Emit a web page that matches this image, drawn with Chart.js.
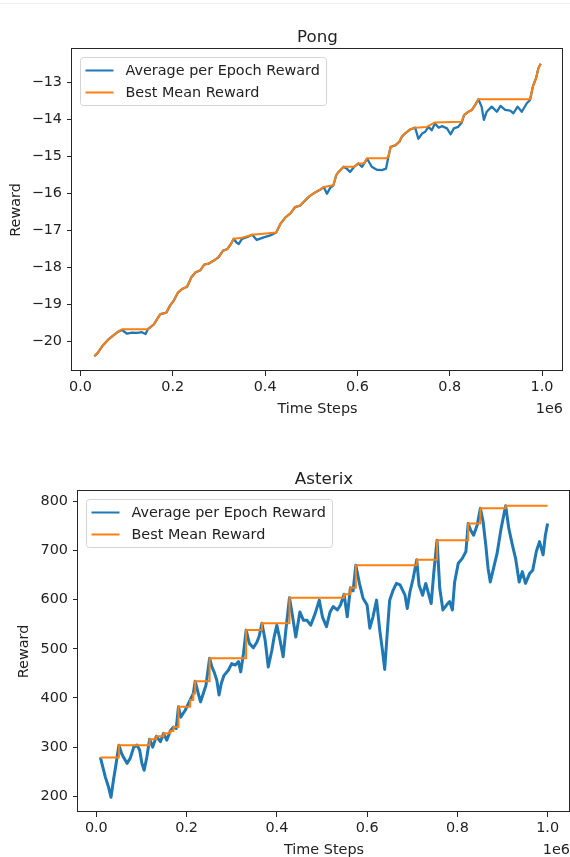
<!DOCTYPE html>
<html>
<head>
<meta charset="utf-8">
<script src="https://cdn.jsdelivr.net/npm/chart.js@4.4.0/dist/chart.umd.min.js"></script>
<style>
  html, body { margin: 0; padding: 0; background: #fff; }
  body { position: relative; width: 570px; height: 857px; overflow: hidden; }
  #rule { position: absolute; left: 0; top: 3px; width: 570px; height: 1px; background: #efefef; }
  canvas { position: absolute; left: 0; }
  #pong { top: 0; }
  #asterix { top: 430px; }
</style>
</head>
<body>
<div id="rule"></div>
<canvas id="pong" width="570" height="430"></canvas>
<canvas id="asterix" width="570" height="427"></canvas>
<script>
// --- Pong ---
const pongSteps = [30000, 37500, 47000, 61000, 72000, 81000, 90000, 101000, 112000, 123000, 133000, 141000, 146000,
  159000, 173000, 186000, 195000, 202000, 211000, 220000, 231000, 240000, 249000, 260000, 268000, 278000, 289000,
  299000, 309000, 318000, 326000, 332000, 338000, 343000, 350000, 362000, 372000, 382000, 397000, 411000, 424000,
  433000, 444000, 455000, 465000, 476000, 487000, 494000, 498000, 509000, 519000, 527000, 534000, 541000, 548000,
  554000, 559000, 570000, 577000, 584000, 593000, 602000, 610000, 621000, 631000, 642000, 653000, 662000, 667000,
  672000, 682000, 691000, 696000, 703000, 714000, 725000, 732000, 740000, 747000, 754000, 761000, 768000, 776000,
  783000, 794000, 802000, 809000, 818000, 826000, 831000, 840000, 848000, 855000, 862000, 869000, 874000, 880000,
  891000, 902000, 910000, 920000, 931000, 938000, 947000, 956000, 967000, 974000, 980000, 987000, 992000, 997000];
const pongAvg = [-20.41, -20.32, -20.14, -19.95, -19.84, -19.75, -19.70, -19.80, -19.77, -19.78, -19.76, -19.81, -19.68,
  -19.55, -19.27, -19.23, -19.02, -18.91, -18.69, -18.59, -18.53, -18.28, -18.14, -18.08, -17.93, -17.90, -17.82,
  -17.73, -17.55, -17.51, -17.37, -17.23, -17.33, -17.37, -17.23, -17.18, -17.12, -17.26, -17.19, -17.14, -17.06,
  -16.83, -16.65, -16.54, -16.37, -16.33, -16.19, -16.10, -16.06, -15.97, -15.90, -15.83, -16.01, -15.85, -15.78,
  -15.51, -15.42, -15.28, -15.33, -15.42, -15.28, -15.19, -15.28, -15.06, -15.28, -15.36, -15.37, -15.33, -15.01,
  -14.74, -14.70, -14.60, -14.47, -14.38, -14.27, -14.22, -14.52, -14.38, -14.33, -14.20, -14.29, -14.11, -14.22,
  -14.18, -14.24, -14.40, -14.24, -14.20, -14.08, -13.88, -13.79, -13.74, -13.61, -13.45, -13.65, -14.01, -13.79,
  -13.65, -13.79, -13.63, -13.74, -13.76, -13.83, -13.65, -13.79, -13.56, -13.47, -13.11, -12.88, -12.61, -12.49];
const pongBestSteps = [30000, 37500, 47000, 61000, 72000, 81000, 90000, 146000, 159000, 173000, 186000, 195000, 202000,
  211000, 220000, 231000, 240000, 249000, 260000, 268000, 278000, 289000, 299000, 309000, 318000, 326000, 332000,
  350000, 372000, 424000, 433000, 444000, 455000, 465000, 476000, 487000, 494000, 498000, 509000, 519000, 527000,
  548000, 554000, 559000, 570000, 593000, 602000, 614000, 621000, 662000, 667000, 672000, 682000, 691000, 696000,
  703000, 714000, 725000, 750000, 768000, 826000, 831000, 840000, 848000, 855000, 862000, 974000, 980000, 987000,
  992000, 997000];
const pongBest = [-20.41, -20.32, -20.14, -19.95, -19.84, -19.75, -19.68, -19.68, -19.55, -19.27, -19.23, -19.02, -18.91,
  -18.69, -18.59, -18.53, -18.28, -18.14, -18.08, -17.93, -17.90, -17.82, -17.73, -17.55, -17.51, -17.37, -17.23,
  -17.20, -17.12, -17.06, -16.83, -16.65, -16.54, -16.37, -16.33, -16.19, -16.10, -16.06, -15.97, -15.90, -15.83,
  -15.78, -15.51, -15.42, -15.28, -15.28, -15.19, -15.19, -15.05, -15.05, -15.01, -14.74, -14.70, -14.60, -14.47,
  -14.38, -14.27, -14.22, -14.20, -14.08, -14.06, -13.88, -13.79, -13.74, -13.61, -13.45, -13.45, -13.11, -12.88,
  -12.61, -12.49];
const pongYTicks = [-20, -19, -18, -17, -16, -15, -14, -13];
const pongYTickLabels = ['\u221220', '\u221219', '\u221218', '\u221217', '\u221216', '\u221215', '\u221214', '\u221213'];

// --- Asterix ---
const asterixSteps = [9000, 20000, 27000, 32500, 38000, 44000, 50000, 56000, 60000, 68000, 75000, 83000, 90000, 96000,
  101000, 106000, 112000, 118000, 125000, 133000, 142000, 149000, 156000, 164000, 171000, 177000, 182000, 187000,
  197000, 208000, 215000, 219000, 226000, 231000, 237000, 243000, 251000, 256000, 261000, 267000, 272000, 277000,
  283000, 293000, 300000, 308000, 315000, 320000, 326000, 332000, 339000, 348000, 356000, 361000, 367000, 374000,
  381000, 389000, 394000, 400000, 407000, 414000, 420000, 428000, 435000, 442000, 451000, 459000, 467000, 475000,
  485000, 494000, 501000, 510000, 518000, 525000, 534000, 541000, 549000, 556000, 563000, 569000, 575000, 583000,
  591000, 600000, 606000, 613000, 621000, 628000, 634000, 639000, 644000, 650000, 658000, 665000, 673000, 684000,
  689000, 695000, 702000, 710000, 715000, 723000, 730000, 737000, 742000, 748000, 755000, 761000, 768000, 776000,
  783000, 789000, 794000, 802000, 811000, 819000, 824000, 829000, 836000, 844000, 851000, 857000, 863000, 868000,
  873000, 881000, 888000, 897000, 907000, 914000, 922000, 929000, 937000, 944000, 951000, 960000, 967000, 975000,
  982000, 990000, 995000, 1000000];
const asterixAvg = [279, 239, 219, 198, 233, 267, 304, 287, 280, 267, 277, 300, 304, 294,
  267, 253, 280, 316, 300, 322, 311, 328, 314, 333, 341, 338, 382, 361,
  375, 396, 409, 434, 409, 392, 409, 426, 481, 463, 453, 436, 406, 430,
  446, 457, 470, 467, 474, 453, 490, 538, 511, 502, 514, 526, 552, 518,
  463, 497, 524, 548, 518, 484, 538, 604, 565, 524, 575, 558, 558, 548,
  572, 599, 565, 545, 575, 586, 579, 589, 611, 565, 624, 618, 670, 633,
  603, 589, 542, 565, 599, 538, 497, 458, 524, 599, 620, 633, 630, 609,
  582, 616, 643, 681, 630, 609, 633, 609, 592, 657, 721, 623, 579, 589,
  596, 579, 636, 674, 684, 698, 755, 742, 731, 752, 786, 759, 711, 664,
  636, 667, 694, 745, 791, 745, 711, 684, 636, 657, 633, 653, 660, 698,
  718, 691, 731, 755];
const asterixBestSteps = [9000, 50000, 118000, 133000, 149000, 164000, 171000, 182000, 208000, 215000, 219000, 251000,
  332000, 367000, 428000, 549000, 563000, 575000, 710000, 755000, 824000, 851000, 907000, 1000000];
const asterixBest = [279, 304, 316, 322, 328, 333, 341, 382, 396, 409, 434, 481,
  538, 552, 604, 611, 624, 670, 681, 721, 755, 786, 791, 791];
const asterixYTicks = [200, 300, 400, 500, 600, 700, 800];
const asterixYTickLabels = ['200', '300', '400', '500', '600', '700', '800'];

const stepTicks = [0, 200000, 400000, 600000, 800000, 1000000];
const stepTickLabels = ['0.0', '0.2', '0.4', '0.6', '0.8', '1.0'];

const TEXT = '#222';
const FONT = '"DejaVu Sans", sans-serif';
const SIZE = 14.4;

// matplotlib-like frame, titles, labels and legend
const mplFrame = {
  id: 'mplFrame',
  afterDraw(chart, args, o) {
    const ctx = chart.ctx, a = chart.chartArea;
    ctx.save();
    ctx.strokeStyle = '#262626';
    ctx.lineWidth = 1;
    ctx.strokeRect(Math.round(a.left) - 0.5, Math.round(a.top) - 0.5,
      Math.round(a.right) - Math.round(a.left), Math.round(a.bottom) - Math.round(a.top));

    ctx.fillStyle = TEXT;
    ctx.font = '16.7px ' + FONT;
    ctx.textAlign = 'center';
    ctx.textBaseline = 'alphabetic';
    ctx.fillText(o.title, (a.left + a.right) / 2, a.top - 7);

    ctx.font = SIZE + 'px ' + FONT;
    ctx.textBaseline = 'middle';
    ctx.fillText('Time Steps', (a.left + a.right) / 2, a.bottom + 38);
    ctx.textAlign = 'right';
    ctx.fillText('1e6', a.right, a.bottom + 38);

    ctx.save();
    ctx.translate(o.ylabelX, (a.top + a.bottom) / 2);
    ctx.rotate(-Math.PI / 2);
    ctx.textAlign = 'center';
    ctx.fillText('Reward', 0, 0);
    ctx.restore();

    // legend
    const ds = chart.data.datasets;
    const tw = Math.max(...ds.map(d => ctx.measureText(d.label).width));
    const bx = Math.round(a.left + 7.5) + 0.5, by = Math.round(a.top + 7.5) + 0.5;
    const bw = Math.round(45 + tw + 7), bh = 48;
    ctx.beginPath();
    ctx.roundRect(bx, by, bw, bh, 3);
    ctx.fillStyle = 'rgba(255,255,255,0.8)';
    ctx.fill();
    ctx.strokeStyle = '#d4d4d4';
    ctx.stroke();
    ds.forEach((d, i) => {
      const y = by + 13 + 22 * i;
      ctx.beginPath();
      ctx.moveTo(bx + 5, y);
      ctx.lineTo(bx + 33, y);
      ctx.strokeStyle = d.borderColor;
      ctx.lineWidth = 2;
      ctx.stroke();
      ctx.fillStyle = TEXT;
      ctx.textAlign = 'left';
      ctx.fillText(d.label, bx + 45, y + 1);
    });
    ctx.restore();
  }
};

function makeChart(id, c) {
  return new Chart(document.getElementById(id), {
    type: 'line',
    data: {
      datasets: [
        {
          label: 'Average per Epoch Reward',
          data: c.avgSteps.map((x, i) => ({ x, y: c.avg[i] })),
          borderColor: '#1f77b4',
          borderWidth: c.avgWidth,
          order: 1
        },
        {
          label: 'Best Mean Reward',
          data: c.bestSteps.map((x, i) => ({ x, y: c.best[i] })),
          borderColor: '#ff7f0e',
          borderWidth: 2,
          stepped: c.stepped,
          order: 0
        }
      ]
    },
    options: {
      responsive: false,
      animation: false,
      devicePixelRatio: 1,
      layout: { padding: c.padding },
      elements: { point: { radius: 0 }, line: { tension: 0, borderJoinStyle: 'round' } },
      plugins: {
        legend: { display: false },
        tooltip: { enabled: false },
        mplFrame: { title: c.title, ylabelX: c.ylabelX }
      },
      scales: {
        x: {
          type: 'linear',
          min: c.xMin,
          max: c.xMax,
          afterFit: s => { s.height = c.xHeight; },
          afterBuildTicks: s => { s.ticks = stepTicks.map(v => ({ value: v })); },
          ticks: {
            callback: (v, i) => stepTickLabels[i],
            autoSkip: false,
            maxRotation: 0,
            padding: 3,
            color: TEXT,
            font: { family: FONT, size: SIZE }
          },
          grid: { drawOnChartArea: false, tickLength: 5, color: '#262626' },
          border: { display: false }
        },
        y: {
          type: 'linear',
          min: c.yMin,
          max: c.yMax,
          afterFit: s => { s.width = c.yWidth; },
          afterBuildTicks: s => { s.ticks = c.yTicks.map(v => ({ value: v })); },
          ticks: {
            callback: (v, i) => c.yTickLabels[i],
            autoSkip: false,
            padding: 5,
            color: TEXT,
            font: { family: FONT, size: SIZE }
          },
          grid: { drawOnChartArea: false, tickLength: 5, color: '#262626' },
          border: { display: false }
        }
      }
    },
    plugins: [mplFrame]
  });
}

makeChart('pong', {
  title: 'Pong',
  avgSteps: pongSteps, avg: pongAvg,
  bestSteps: pongBestSteps, best: pongBest,
  avgWidth: 2.3, stepped: false,
  xMin: -18350, xMax: 1045350, yMin: -20.81, yMax: -12.09,
  yTicks: pongYTicks, yTickLabels: pongYTickLabels,
  padding: { top: 49, right: 7, bottom: 0, left: 0 },
  yWidth: 72, xHeight: 59, ylabelX: 16
});

makeChart('asterix', {
  title: 'Asterix',
  avgSteps: asterixSteps, avg: asterixAvg,
  bestSteps: asterixBestSteps, best: asterixBest,
  avgWidth: 3, stepped: 'before',
  xMin: -40600, xMax: 1049600, yMin: 168, yMax: 821,
  yTicks: asterixYTicks, yTickLabels: asterixYTickLabels,
  padding: { top: 61, right: 0, bottom: 0, left: 0 },
  yWidth: 78, xHeight: 45, ylabelX: 24
});
</script>
</body>
</html>
